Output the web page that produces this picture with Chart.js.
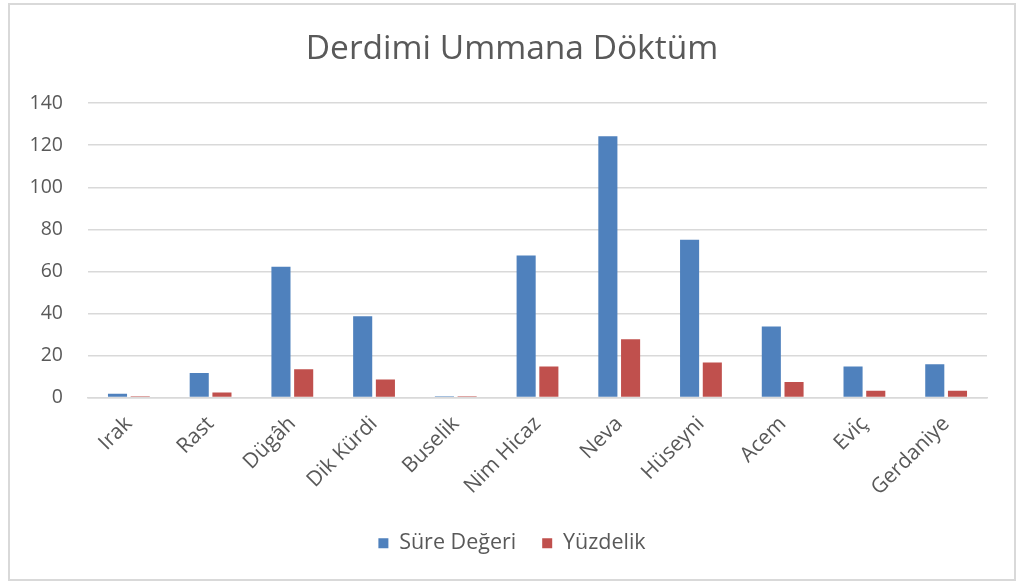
<!DOCTYPE html>
<html>
<head>
<meta charset="utf-8">
<script src="https://cdn.jsdelivr.net/npm/chart.js@4/dist/chart.umd.min.js"></script>
<style>
    html, body { margin: 0; padding: 0; background: #ffffff; }
    #frame {
        position: absolute;
        left: 8px;
        top: 3px;
        width: 1004px;
        height: 574px;
        border: 2px solid #d9d9d9;
        background: #ffffff;
    }
    #chart { display: block; }
</style>
</head>
<body>
<div id="frame"><canvas id="chart"></canvas></div>
<script>
// ===============================
// DATA
// ===============================

const makamLabels = [
    "Irak", "Rast", "Dügâh", "Dik Kürdi", "Buselik", "Nim Hicaz",
    "Neva", "Hüseyni", "Acem", "Eviç", "Gerdaniye"
];

const sureDegeri = [1.8, 11.7, 62.2, 38.7, 0.6, 67.5, 124.3, 75, 33.8, 14.7, 15.8];
const yuzdelik = [0.6, 2.4, 13.4, 8.6, 0.6, 14.7, 27.7, 16.6, 7.4, 3.2, 3.2];

const yTicks = [0, 20, 40, 60, 80, 100, 120, 140];

// ===============================
// STYLING
// ===============================

const textGray = "#595959";
const gridGray = "#d9d9d9";

Chart.defaults.font.family = "'Open Sans', sans-serif";
Chart.defaults.color = textGray;

new Chart(document.getElementById("chart"), {
    type: "bar",
    data: {
        labels: makamLabels,
        datasets: [
            {
                label: "Süre Değeri",
                data: sureDegeri,
                backgroundColor: "#4f81bd",
                categoryPercentage: 0.556,
                barPercentage: 0.84
            },
            {
                label: "Yüzdelik",
                data: yuzdelik,
                backgroundColor: "#c0504d",
                categoryPercentage: 0.556,
                barPercentage: 0.84
            }
        ]
    },
    options: {
        responsive: true,
        maintainAspectRatio: false,
        animation: false,
        layout: {
            padding: { left: 0, right: 0, top: 0, bottom: 15 }
        },
        plugins: {
            title: {
                display: true,
                text: "Derdimi Ummana Döktüm",
                color: textGray,
                font: { size: 33.5, weight: "normal" },
                padding: { top: 24, bottom: 34 }
            },
            legend: {
                position: "bottom",
                labels: {
                    color: textGray,
                    font: { size: 21.5 },
                    boxWidth: 10,
                    boxHeight: 10,
                    padding: 26
                }
            },
            tooltip: { enabled: false }
        },
        scales: {
            x: {
                grid: { display: false },
                border: { color: gridGray, width: 1.5 },
                ticks: {
                    color: textGray,
                    font: { size: 21 },
                    maxRotation: 45,
                    minRotation: 45,
                    padding: 6
                }
            },
            y: {
                min: 0,
                max: 140,
                afterBuildTicks: (axis) => {
                    axis.ticks = yTicks.map(v => ({ value: v }));
                },
                afterFit: (axis) => {
                    axis.width = 78;
                },
                grid: { color: gridGray, lineWidth: 1.5, drawTicks: false },
                border: { display: false },
                ticks: {
                    color: textGray,
                    font: { size: 19.5 },
                    padding: 25
                }
            },
            // empty right margin so the title centres like the original
            yRight: {
                position: "right",
                grid: { display: false },
                border: { display: false },
                ticks: { display: false },
                afterFit: (axis) => {
                    axis.width = 27;
                }
            }
        }
    }
});
</script>
</body>
</html>
